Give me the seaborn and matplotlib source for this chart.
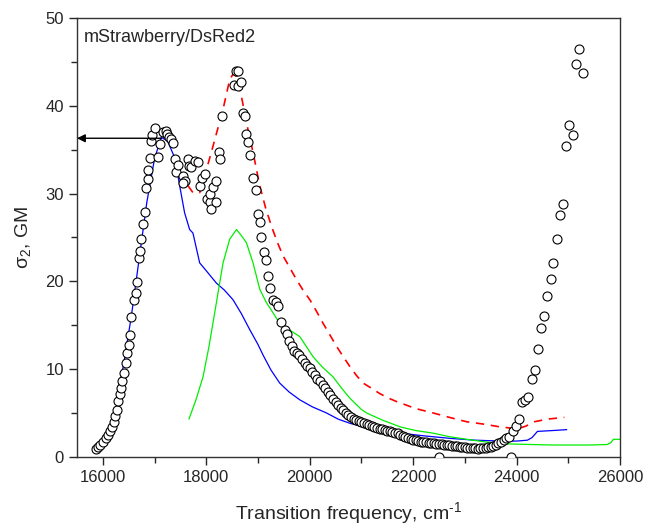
import numpy as np
import pandas as pd
import seaborn as sns
from matplotlib import pyplot as plt

# measured 2PA spectrum (circles)
meas_x = [15859, 15903, 15950, 16000, 16052, 16097, 16143, 16174, 16207, 16232,
          16271, 16290, 16323, 16348, 16376, 16414, 16453, 16472, 16498, 16530,
          16550, 16594, 16633, 16658, 16697, 16724, 16743, 16775, 16807, 16827,
          16871, 16871, 16904, 16937, 16956, 17001, 17065, 17098, 17162, 17214,
          17239, 17278, 17324, 17356, 17388, 17420, 17452, 17549, 17582, 17549,
          17646, 17665, 17711, 17775, 17839, 17872, 17924, 17969, 18014, 18066,
          18079, 18098, 18130, 18182, 18195, 18246, 18259, 18304, 18536, 18582,
          18614, 18614, 18679, 18711, 18743, 18776, 18808, 18853, 18904, 18956,
          19001, 19034, 19066, 19111, 19150, 19195, 19240, 19292, 19343, 19388,
          19453, 19520, 19560,
          19600, 19650, 19700, 19750, 19800, 19850, 19900, 19950, 20000, 20050,
          20100, 20150, 20200, 20250, 20300, 20350, 20400, 20450, 20500, 20550,
          20600, 20650, 20700, 20750, 20800, 20850, 20900, 20950, 21000, 21050,
          21100, 21150, 21200, 21250, 21300, 21350, 21400, 21450, 21500, 21550,
          21600, 21650, 21700, 21750, 21800, 21850, 21900, 21950, 22000, 22050,
          22100, 22150, 22200, 22250, 22300, 22350, 22400, 22450, 22500, 22550,
          22600, 22650, 22700, 22750, 22800, 22850, 22900, 22950, 23000, 23050,
          23100, 23150, 23200, 23250, 23300, 23350, 23400, 23450, 23500, 23550,
          23600, 23650, 23700, 23750, 23800, 23850,
          23938, 23990, 24053, 24100, 24164, 24228, 24293, 24351, 24416, 24468,
          24532, 24597, 24662, 24713, 24778, 24842, 24906, 24958, 25022, 25087,
          25151, 25215, 25281, 22505, 23887]
meas_y = [0.85, 1.1, 1.4, 1.7, 2.1, 2.5, 2.9, 3.4, 4.0, 4.6,
          5.3, 6.4, 7.2, 7.9, 8.7, 9.5, 10.7, 11.8, 12.8, 13.9,
          15.9, 17.9, 18.7, 19.9, 22.7, 23.4, 24.8, 26.5, 27.9, 30.6,
          31.7, 32.7, 34.1, 36.0, 36.7, 37.5, 34.2, 35.6, 37.0, 37.1,
          36.8, 36.5, 36.2, 35.8, 33.9, 32.4, 33.3, 32.0, 31.4, 31.2,
          33.9, 33.1, 33.0, 33.7, 33.6, 30.9, 31.8, 32.2, 29.4, 29.0,
          29.9, 28.2, 30.7, 29.0, 31.4, 34.7, 33.9, 38.8, 42.4, 44.0,
          44.0, 42.2, 42.7, 39.2, 38.8, 36.8, 35.9, 34.4, 31.8, 30.4,
          27.7, 26.8, 25.1, 23.3, 22.4, 20.6, 19.2, 17.9, 17.6, 17.2,
          15.4, 14.5, 14.0,
          13.2, 12.6, 12.1, 11.8, 11.6, 11.1, 10.7, 10.4, 10.1, 9.7,
          9.3, 8.9, 8.6, 8.2, 7.8, 7.4, 7.0, 6.6, 6.2, 5.9,
          5.6, 5.3, 5.0, 4.8, 4.5, 4.3, 4.2, 4.1, 4.0, 3.9,
          3.8, 3.6, 3.5, 3.4, 3.3, 3.2, 3.15, 3.1, 3.0, 2.95,
          2.85, 2.75, 2.7, 2.5, 2.35, 2.25, 2.1, 2.0, 1.95, 1.9,
          1.85, 1.75, 1.7, 1.65, 1.6, 1.6, 1.55, 1.5, 1.5, 1.45,
          1.4, 1.35, 1.3, 1.25, 1.2, 1.2, 1.15, 1.1, 1.1, 1.05,
          1.0, 1.0, 1.0, 0.95, 1.0, 1.0, 1.05, 1.1, 1.15, 1.25,
          1.4, 1.55, 1.75, 1.9, 2.1, 2.3,
          2.9, 3.5, 4.3, 6.3, 6.5, 6.8, 8.9, 9.9, 12.3, 14.7,
          16.1, 18.3, 20.3, 22.1, 24.8, 27.5, 28.8, 35.4, 37.8, 36.7,
          44.8, 46.5, 43.7, 0.0, 0.0]

# blue: scaled 1PA spectrum
blue_x = [16248, 16400, 16550, 16700, 16850, 17000, 17130, 17250, 17388, 17485,
          17581, 17678, 17742, 17872, 18000, 18195, 18350, 18517, 18680, 18840,
          19000, 19098, 19250, 19421, 19600, 19808, 20050, 20325, 20550, 20790,
          21200, 21758, 22200, 22726, 23200, 23694, 24000, 24210, 24300, 24404,
          24700, 24971]
blue_y = [6.1, 10.5, 16.0, 22.5, 29.0, 34.0, 36.4, 36.0, 34.1, 30.9,
          27.8, 25.9, 25.5, 22.1, 21.2, 19.8, 19.0, 17.9, 16.3, 14.5,
          12.8, 11.6, 9.9, 8.4, 7.4, 6.5, 5.7, 5.0, 4.3, 3.8,
          3.2, 2.7, 2.4, 2.1, 1.9, 1.8, 1.8, 1.9, 2.2, 2.9,
          3.0, 3.1]

# green: second spectrum
green_x = [17665, 17800, 17936, 18050, 18162, 18250, 18324, 18453, 18583, 18680,
           18776, 18904, 19034, 19160, 19292, 19421, 19600, 19808, 20066, 20250,
           20453, 20620, 20790, 21000, 21100, 21400, 21758, 22050, 22388, 22700,
           23036, 23400, 23694, 24000, 24324, 24700, 24971, 25400, 25745, 25820,
           25874, 26000]
green_y = [4.3, 6.5, 9.1, 12.5, 16.4, 19.5, 22.1, 24.8, 25.9, 25.2,
           24.4, 22.1, 19.1, 17.6, 16.4, 15.2, 14.5, 13.7, 11.4, 10.2,
           9.1, 7.8, 6.6, 5.4, 5.0, 4.2, 3.4, 3.0, 2.7, 2.3,
           2.0, 1.7, 1.5, 1.45, 1.4, 1.35, 1.35, 1.35, 1.4, 1.6,
           2.0, 2.0]

# red dashed: sum spectrum
red_x = [17646, 17742, 17872, 17969, 18130, 18324, 18453, 18517, 18582, 18679,
         18776, 18904, 19034, 19150, 19260, 19370, 19485, 19610, 19744, 19870,
         20002, 20130, 20260, 20390, 20518, 20650, 20776, 20900, 21034, 21200,
         21357, 21520, 21680, 22050, 22388, 22700, 23036, 23400, 23694, 24017,
         24180, 24343, 24600, 24925]
red_y = [30.9, 30.1, 30.1, 32.0, 35.4, 39.6, 43.0, 43.6, 43.4, 41.1,
         38.1, 34.7, 30.9, 28.3, 26.3, 24.5, 22.9, 21.6, 20.2, 19.0,
         17.9, 16.6, 15.2, 13.9, 12.6, 11.4, 10.3, 9.3, 8.4, 7.8,
         7.2, 6.7, 6.3, 5.5, 5.0, 4.5, 4.0, 3.7, 3.4, 3.2,
         3.5, 4.0, 4.3, 4.5]

arrow_y = 36.3
arrow_start = 17130

sns.set_theme(style="ticks")
plt.rcParams["font.family"] = ["Liberation Sans", "DejaVu Sans"]
plt.rcParams["mathtext.fontset"] = "custom"
plt.rcParams["mathtext.rm"] = "Liberation Sans"
plt.rcParams["mathtext.it"] = "Liberation Sans:italic"

fig = plt.figure(figsize=(6.45, 5.3), dpi=100)
ax = fig.add_axes([0.1194, 0.138, 0.8418, 0.828])

sns.lineplot(x=blue_x, y=blue_y, color="#0000ff", lw=0.9, ax=ax, sort=False)
sns.lineplot(x=green_x, y=green_y, color="#00ee00", lw=0.9, ax=ax, sort=False)
sns.lineplot(x=red_x, y=red_y, color="#ff0000", lw=1.2, ax=ax, sort=False,
             linestyle=(0, (5, 4)))

df = pd.DataFrame({"x": meas_x, "y": meas_y})
sns.scatterplot(data=df, x="x", y="y", marker="o", s=42, color="white",
                edgecolor="black", linewidth=0.8, ax=ax, zorder=5)

ax.annotate("", xy=(15500, arrow_y), xytext=(arrow_start, arrow_y),
            arrowprops=dict(arrowstyle="-|>", color="black", lw=1.0,
                            mutation_scale=12, shrinkA=0, shrinkB=0), zorder=6)

ax.set_xlim(15500, 26000)
ax.set_ylim(0, 50)
ax.set_xticks(range(16000, 26001, 2000))
ax.set_xticks(range(17000, 26000, 2000), minor=True)
ax.set_yticks(range(0, 51, 10))
ax.set_yticks(range(5, 50, 10), minor=True)
ax.tick_params(axis="both", which="major", labelsize=12, length=6, width=1,
               direction="out")
ax.tick_params(axis="both", which="minor", length=4, width=1, direction="out")
for sp in ax.spines.values():
    sp.set_linewidth(1.0)
    sp.set_color("#333333")

ax.set_xlabel(r"Transition frequency, cm$^{\text{-1}}$", fontsize=14, labelpad=11)
ax.set_ylabel("σ$_{2}$, GM", fontsize=14, labelpad=9)
ax.text(0.013, 0.955, "mStrawberry/DsRed2", transform=ax.transAxes,
        fontsize=13, va="center", ha="left")

fig.savefig("out.png", dpi=100)
